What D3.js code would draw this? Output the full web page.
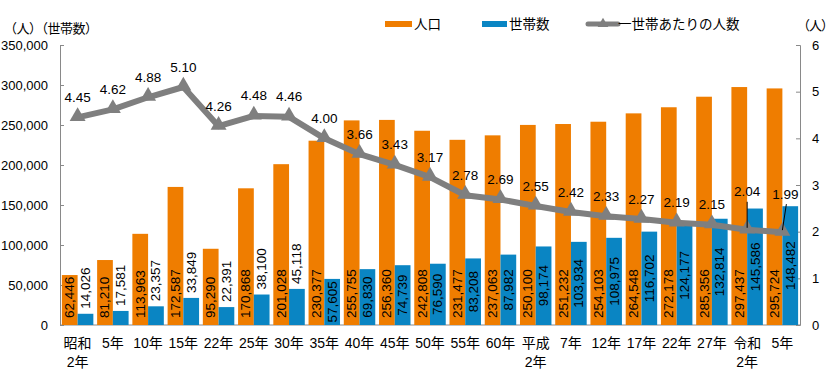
<!DOCTYPE html>
<html lang="ja">
<head>
<meta charset="UTF-8">
<title>人口と世帯数</title>
<script src="https://d3js.org/d3.v7.min.js"></script>
<style>
    body { margin: 0; background: #fff; }
    svg { font-family: "Liberation Sans", "Noto Sans CJK JP", sans-serif; }
    .axis path, .axis line { stroke: #898989; }
    .axis text { font-size: 13px; fill: #000; }
</style>
</head>
<body>
<svg width="835" height="384"></svg>
<script>
// categories (two-line labels use \n)
var years = ["昭和\n2年", "5年", "10年", "15年", "22年", "25年", "30年", "35年", "40年", "45年", "50年",
    "55年", "60年", "平成\n2年", "7年", "12年", "17年", "22年", "27年", "令和\n2年", "5年"];
var population = [62446, 81210, 113963, 172587, 95290, 170868, 201028, 230377, 255755, 256360, 242808,
    231477, 237063, 250100, 251232, 254103, 264548, 272178, 285356, 297437, 295724];
var households = [14026, 17581, 23357, 33849, 22391, 38100, 45118, 57605, 69830, 74739, 76590,
    83208, 87982, 98174, 103934, 108975, 116702, 124177, 132814, 145586, 148482];
var perHousehold = [4.45, 4.62, 4.88, 5.10, 4.26, 4.48, 4.46, 4.00, 3.66, 3.43, 3.17,
    2.78, 2.69, 2.55, 2.42, 2.33, 2.27, 2.19, 2.15, 2.04, 1.99];
var leftTicks = [0, 50000, 100000, 150000, 200000, 250000, 300000, 350000];
var rightTicks = [0, 1, 2, 3, 4, 5, 6];

var orange = "#EF7D00", blue = "#0A85C3", gray = "#7F7F7F";

var svg = d3.select("svg");
var plotL = 60, plotR = 800, plotT = 45, plotB = 325;

var x0 = d3.scaleBand().domain(d3.range(years.length)).range([plotL, plotR]);
var x1 = d3.scaleBand().domain(["pop", "hh"]).range([0, x0.bandwidth()]).paddingOuter(0.12);
var yL = d3.scaleLinear().domain([0, 350000]).range([plotB, plotT]);
var yR = d3.scaleLinear().domain([0, 6]).range([plotB, plotT]);
var fmt = d3.format(",");

// axes
svg.append("g").attr("class", "axis")
    .attr("transform", "translate(" + plotL + ",0)")
    .call(d3.axisLeft(yL).tickValues(leftTicks).tickFormat(fmt).tickSize(-4).tickSizeOuter(-4).tickPadding(12));
svg.append("g").attr("class", "axis")
    .attr("transform", "translate(" + plotR + ",0)")
    .call(d3.axisRight(yR).tickValues(rightTicks).tickFormat(d3.format("d")).tickSize(-4).tickSizeOuter(-4).tickPadding(12));
svg.append("line")
    .attr("x1", plotL).attr("x2", plotR).attr("y1", plotB).attr("y2", plotB)
    .attr("stroke", "#898989");

// bars
var g = svg.append("g");
g.selectAll(".pop").data(population).enter().append("rect")
    .attr("x", function (d, i) { return x0(i) + x1("pop"); })
    .attr("y", function (d) { return yL(d); })
    .attr("width", x1.bandwidth())
    .attr("height", function (d) { return plotB - yL(d); })
    .attr("fill", orange);
g.selectAll(".hh").data(households).enter().append("rect")
    .attr("x", function (d, i) { return x0(i) + x1("hh"); })
    .attr("y", function (d) { return yL(d); })
    .attr("width", x1.bandwidth())
    .attr("height", function (d) { return plotB - yL(d); })
    .attr("fill", blue);

// bar labels
g.selectAll(".popLabel").data(population).enter().append("text")
    .attr("transform", function (d, i) {
        return "translate(" + (x0(i) + x1("pop") + x1.bandwidth() / 2) + "," + (plotB - 7) + ") rotate(-90)";
    })
    .attr("dominant-baseline", "central")
    .attr("font-size", 13.5)
    .text(function (d) { return fmt(d); });

// household labels sit mid-bar, or above the bar when it is too short
g.selectAll(".hhLabel").data(households).enter().append("text")
    .attr("dominant-baseline", "central")
    .attr("font-size", 13.5)
    .text(function (d) { return fmt(d); })
    .each(function (d, i) {
        var len = this.getComputedTextLength();
        var h = plotB - yL(d);
        var cx = x0(i) + x1("hh") + x1.bandwidth() / 2;
        var cy = h >= len + 2 ? yL(d) + h / 2 : yL(d) - 5 - len / 2;
        d3.select(this)
            .attr("text-anchor", "middle")
            .attr("transform", "translate(" + cx + "," + cy + ") rotate(-90)");
    });

// line
var cx = function (i) { return x0(i) + x0.bandwidth() / 2; };
svg.append("path").datum(perHousehold)
    .attr("fill", "none")
    .attr("stroke", gray)
    .attr("stroke-width", 6)
    .attr("stroke-linejoin", "round")
    .attr("d", d3.line().x(function (d, i) { return cx(i); }).y(function (d) { return yR(d); }));
svg.selectAll(".mark").data(perHousehold).enter().append("path")
    .attr("transform", function (d, i) { return "translate(" + cx(i) + "," + (yR(d) - 1) + ")"; })
    .attr("d", d3.symbol().type(d3.symbolTriangle).size(110))
    .attr("fill", gray);

// line labels; the last two are lifted with leader lines
var lifted = [19, 20];
svg.selectAll(".lineLabel").data(perHousehold).enter().append("text")
    .attr("x", function (d, i) { return cx(i) + (i === 20 ? 3 : 0); })
    .attr("y", function (d, i) { return yR(d) - (lifted.indexOf(i) >= 0 ? 38 : 20); })
    .attr("text-anchor", "middle")
    .attr("dominant-baseline", "central")
    .attr("font-size", 13.5)
    .text(function (d) { return d.toFixed(2); });
lifted.forEach(function (i) {
    svg.append("line")
        .attr("x1", cx(i) + (i === 20 ? 4 : 0)).attr("y1", yR(perHousehold[i]) - 28)
        .attr("x2", cx(i)).attr("y2", yR(perHousehold[i]) - 2)
        .attr("stroke", "#000").attr("stroke-width", 1);
});

// category labels
svg.selectAll(".cat").data(years).enter().append("text")
    .attr("x", function (d, i) { return cx(i); })
    .attr("y", 348)
    .attr("text-anchor", "middle")
    .attr("font-size", 14)
    .each(function (d) {
        var t = d3.select(this);
        d.split("\n").forEach(function (s, k) {
            t.append("tspan").attr("x", t.attr("x")).attr("dy", k ? 19 : 0).text(s);
        });
    });

// axis titles
svg.append("text").attr("x", 4).attr("y", 33).attr("font-size", 13).attr("letter-spacing", -0.5).text("（人）（世帯数）");
svg.append("text").attr("x", 833).attr("y", 30).attr("font-size", 13).attr("letter-spacing", -1)
    .attr("text-anchor", "end").text("（人）");

// legend
var lg = svg.append("g").attr("font-size", 13.5);
lg.append("rect").attr("x", 385).attr("y", 21).attr("width", 27).attr("height", 6).attr("fill", orange);
lg.append("text").attr("x", 414).attr("y", 29).text("人口");
lg.append("rect").attr("x", 482).attr("y", 21).attr("width", 25).attr("height", 6).attr("fill", blue);
lg.append("text").attr("x", 509).attr("y", 29).text("世帯数");
lg.append("line").attr("x1", 588).attr("x2", 618).attr("y1", 24).attr("y2", 24)
    .attr("stroke", gray).attr("stroke-width", 5).attr("stroke-linecap", "round");
lg.append("path").attr("transform", "translate(603,24)")
    .attr("d", d3.symbol().type(d3.symbolTriangle).size(50)).attr("fill", gray);
lg.append("text").attr("x", 618).attr("y", 29).text("一世帯あたりの人数");
</script>
</body>
</html>
